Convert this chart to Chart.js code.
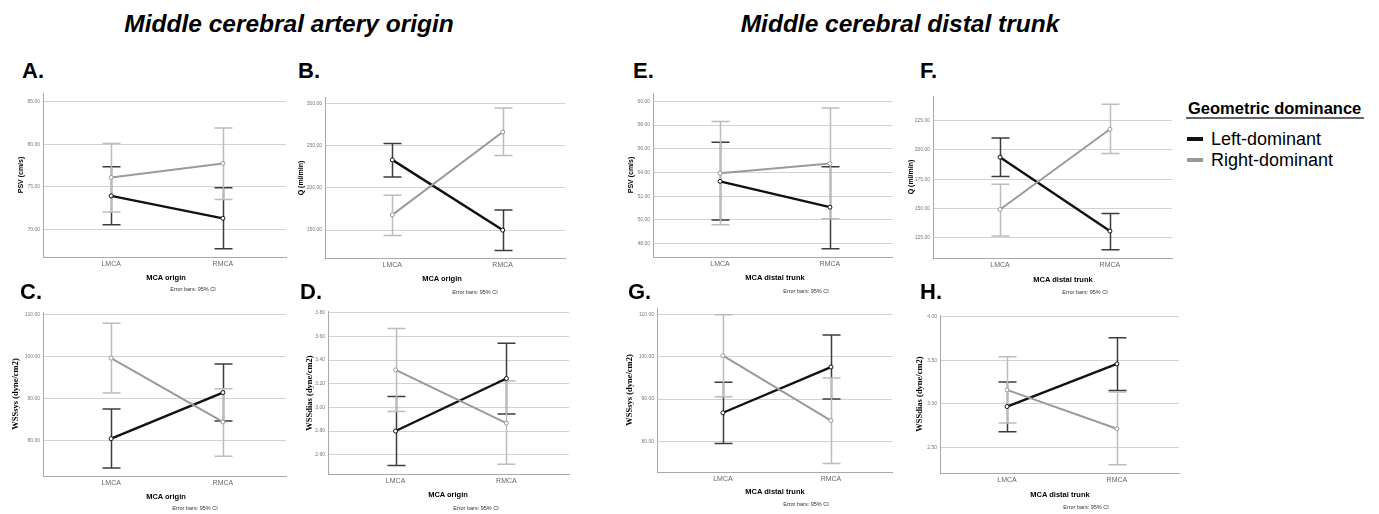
<!DOCTYPE html>
<html>
<head>
<meta charset="utf-8">
<script src="https://cdn.jsdelivr.net/npm/chart.js@4/dist/chart.umd.min.js"></script>
<style>
  html, body { margin: 0; padding: 0; background: #fff; }
  #stage { position: relative; width: 1379px; height: 514px; overflow: hidden; background: #fff; font-family: "Liberation Sans", Arial, sans-serif; }
  canvas { position: absolute; }
  .txt { position: absolute; white-space: nowrap; line-height: 1; color: #000; z-index: 5; }
  .c { transform: translate(-50%, -50%); }
  .rot { transform: translate(-50%, -50%) rotate(-90deg); }
</style>
</head>
<body>
<div id="stage"></div>
<script>
// ---------------- DATA ----------------
const categories = ['LMCA', 'RMCA'];
const seriesNames = ['Left-dominant', 'Right-dominant'];

// A. PSV, MCA origin
const psvOriginLeft = [73.96, 71.33];
const psvOriginLeftLo = [70.59, 67.77];
const psvOriginLeftHi = [77.37, 74.90];
const psvOriginRight = [76.11, 77.76];
const psvOriginRightLo = [72.08, 73.53];
const psvOriginRightHi = [80.10, 81.90];
const psvOriginTicks = [70, 75, 80, 85];

// B. Q, MCA origin
const qOriginLeft = [233.3, 150.0];
const qOriginLeftLo = [213.1, 125.9];
const qOriginLeftHi = [252.6, 173.7];
const qOriginRight = [168.1, 266.4];
const qOriginRightLo = [143.7, 238.4];
const qOriginRightHi = [191.4, 294.9];
const qOriginTicks = [150, 200, 250, 300];

// C. WSSsys, MCA origin
const wssSysOriginLeft = [80.4, 91.4];
const wssSysOriginLeftLo = [73.4, 84.6];
const wssSysOriginLeftHi = [87.5, 98.2];
const wssSysOriginRight = [99.6, 84.4];
const wssSysOriginRightLo = [91.3, 76.2];
const wssSysOriginRightHi = [107.9, 92.3];
const wssSysOriginTicks = [80, 90, 100, 110];

// D. WSSdias, MCA origin
const wssDiasOriginLeft = [2.800, 3.244];
const wssDiasOriginLeftLo = [2.508, 2.944];
const wssDiasOriginLeftHi = [3.092, 3.542];
const wssDiasOriginRight = [3.317, 2.867];
const wssDiasOriginRightLo = [2.964, 2.520];
const wssDiasOriginRightHi = [3.666, 3.222];
const wssDiasOriginTicks = [2.6, 2.8, 3.0, 3.2, 3.4, 3.6, 3.8];

// E. PSV, MCA distal trunk
const psvDistalLeft = [53.25, 51.07];
const psvDistalLeftLo = [50.00, 47.57];
const psvDistalLeftHi = [56.55, 54.49];
const psvDistalRight = [53.93, 54.75];
const psvDistalRightLo = [49.58, 50.10];
const psvDistalRightHi = [58.30, 59.44];
const psvDistalTicks = [48, 50, 52, 54, 56, 58, 60];

// F. Q, MCA distal trunk
const qDistalLeft = [193.75, 130.7];
const qDistalLeftLo = [177.3, 114.8];
const qDistalLeftHi = [210.2, 145.7];
const qDistalRight = [149.1, 217.6];
const qDistalRightLo = [126.4, 196.9];
const qDistalRightHi = [170.7, 238.9];
const qDistalTicks = [125, 150, 175, 200, 225];

// G. WSSsys, MCA distal trunk
const wssSysDistalLeft = [86.75, 97.6];
const wssSysDistalLeftLo = [79.44, 90.0];
const wssSysDistalLeftHi = [93.97, 105.2];
const wssSysDistalRight = [100.3, 84.9];
const wssSysDistalRightLo = [90.56, 74.7];
const wssSysDistalRightHi = [110.0, 95.0];
const wssSysDistalTicks = [80, 90, 100, 110];

// H. WSSdias, MCA distal trunk
const wssDiasDistalLeft = [2.969, 3.458];
const wssDiasDistalLeftLo = [2.680, 3.153];
const wssDiasDistalLeftHi = [3.252, 3.760];
const wssDiasDistalRight = [3.160, 2.714];
const wssDiasDistalRightLo = [2.779, 2.300];
const wssDiasDistalRightHi = [3.542, 3.137];
const wssDiasDistalTicks = [2.5, 3.0, 3.5, 4.0];

// ---------------- LAYOUT ----------------
const panels = [
  { letter: 'A.', lx: 22, ly: 71, rect: [43, 93, 287, 257], min: 66.8, max: 86.0, ticks: psvOriginTicks,
    s: [[psvOriginLeft, psvOriginLeftLo, psvOriginLeftHi], [psvOriginRight, psvOriginRightLo, psvOriginRightHi]],
    yTitle: 'PSV (cm/s)', serif: false, ytx: 20, xTitle: 'MCA origin', xtx: 166, xty: 278, ebx: 193, eby: 290 },
  { letter: 'B.', lx: 298, ly: 71, rect: [325, 97, 566, 258], min: 116.9, max: 307.9, ticks: qOriginTicks,
    s: [[qOriginLeft, qOriginLeftLo, qOriginLeftHi], [qOriginRight, qOriginRightLo, qOriginRightHi]],
    yTitle: 'Q (ml/min)', serif: false, ytx: 300, xTitle: 'MCA origin', xtx: 442, xty: 279, ebx: 475, eby: 293 },
  { letter: 'E.', lx: 633, ly: 71, rect: [653, 93, 893, 257], min: 46.87, max: 60.7, ticks: psvDistalTicks,
    s: [[psvDistalLeft, psvDistalLeftLo, psvDistalLeftHi], [psvDistalRight, psvDistalRightLo, psvDistalRightHi]],
    yTitle: 'PSV (cm/s)', serif: false, ytx: 630, xTitle: 'MCA distal trunk', xtx: 775, xty: 278, ebx: 806, eby: 292 },
  { letter: 'F.', lx: 920, ly: 71, rect: [933, 96, 1173, 258], min: 107.7, max: 246.0, ticks: qDistalTicks,
    s: [[qDistalLeft, qDistalLeftLo, qDistalLeftHi], [qDistalRight, qDistalRightLo, qDistalRightHi]],
    yTitle: 'Q (ml/min)', serif: false, ytx: 910, xTitle: 'MCA distal trunk', xtx: 1063, xty: 280, ebx: 1085, eby: 293 },
  { letter: 'C.', lx: 20, ly: 292, rect: [43, 312, 287, 476], min: 71.5, max: 110.6, ticks: wssSysOriginTicks,
    s: [[wssSysOriginLeft, wssSysOriginLeftLo, wssSysOriginLeftHi], [wssSysOriginRight, wssSysOriginRightLo, wssSysOriginRightHi]],
    yTitle: 'WSSsys (dyne/cm2)', serif: true, ytx: 15, xTitle: 'MCA origin', xtx: 166, xty: 497, ebx: 195, eby: 509 },
  { letter: 'D.', lx: 300, ly: 292, rect: [328, 311, 570, 474], min: 2.437, max: 3.814, ticks: wssDiasOriginTicks,
    s: [[wssDiasOriginLeft, wssDiasOriginLeftLo, wssDiasOriginLeftHi], [wssDiasOriginRight, wssDiasOriginRightLo, wssDiasOriginRightHi]],
    yTitle: 'WSSdias (dyne/cm2)', serif: true, ytx: 309, xTitle: 'MCA origin', xtx: 448, xty: 495, ebx: 476, eby: 509 },
  { letter: 'G.', lx: 628, ly: 292, rect: [657, 308, 893, 472], min: 72.7, max: 111.6, ticks: wssSysDistalTicks,
    s: [[wssSysDistalLeft, wssSysDistalLeftLo, wssSysDistalLeftHi], [wssSysDistalRight, wssSysDistalRightLo, wssSysDistalRightHi]],
    yTitle: 'WSSsys (dyne/cm2)', serif: true, ytx: 629, xTitle: 'MCA distal trunk', xtx: 775, xty: 492, ebx: 806, eby: 505 },
  { letter: 'H.', lx: 920, ly: 292, rect: [940, 315, 1180, 473], min: 2.206, max: 4.02, ticks: wssDiasDistalTicks,
    s: [[wssDiasDistalLeft, wssDiasDistalLeftLo, wssDiasDistalLeftHi], [wssDiasDistalRight, wssDiasDistalRightLo, wssDiasDistalRightHi]],
    yTitle: 'WSSdias (dyne/cm2)', serif: true, ytx: 919, xTitle: 'MCA distal trunk', xtx: 1060, xty: 495, ebx: 1086, eby: 508 }
];

const lineColors = ['#111111', '#9a9a9a'];
const barColors = ['#3c3c3c', '#bcbcbc'];
const PAD_L = 34, PAD_T = 6, PAD_R = 4, PAD_B = 18;

// ---------------- RENDER ----------------
Chart.defaults.font.family = '"Liberation Sans", Arial, sans-serif';
const stage = document.getElementById('stage');

function addText(text, x, y, css, cls) {
  const d = document.createElement('div');
  d.className = 'txt ' + (cls || '');
  d.textContent = text;
  d.style.left = x + 'px';
  d.style.top = y + 'px';
  Object.assign(d.style, css || {});
  stage.appendChild(d);
  return d;
}

const errorBarPlugin = {
  id: 'errorBars',
  beforeDatasetsDraw(chart) {
    const ctx = chart.ctx;
    const xs = chart.scales.x, ys = chart.scales.y;
    chart.data.datasets.forEach((ds, i) => {
      ctx.save();
      ctx.strokeStyle = ds.barColor;
      ctx.lineWidth = 1.5;
      ds.lo.forEach((lo, j) => {
        const hi = ds.hi[j];
        const x = Math.round(xs.getPixelForValue(j)) + 0.5;
        const y1 = ys.getPixelForValue(lo), y2 = ys.getPixelForValue(hi);
        ctx.beginPath();
        ctx.moveTo(x, y1); ctx.lineTo(x, y2);
        ctx.moveTo(x - 9, y1); ctx.lineTo(x + 9, y1);
        ctx.moveTo(x - 9, y2); ctx.lineTo(x + 9, y2);
        ctx.stroke();
      });
      ctx.restore();
    });
  }
};

panels.forEach(p => {
  const [l, t, r, b] = p.rect;
  const cv = document.createElement('canvas');
  const w = (r - l) + PAD_L + PAD_R, h = (b - t) + PAD_T + PAD_B;
  cv.width = w; cv.height = h;
  cv.style.left = (l - PAD_L) + 'px';
  cv.style.top = (t - PAD_T) + 'px';
  cv.style.width = w + 'px'; cv.style.height = h + 'px';
  stage.appendChild(cv);

  const datasets = p.s.map((sr, i) => ({
    label: seriesNames[i],
    data: sr[0].map((v, j) => ({ x: j, y: v })),
    lo: sr[1], hi: sr[2],
    borderColor: lineColors[i],
    backgroundColor: lineColors[i],
    barColor: barColors[i],
    borderWidth: i === 0 ? 2.4 : 2,
    pointRadius: 2,
    pointBorderWidth: 1,
    pointBackgroundColor: '#ffffff',
    pointBorderColor: lineColors[i],
    tension: 0,
    order: 1 - i
  }));

  new Chart(cv, {
    type: 'line',
    data: { datasets },
    options: {
      responsive: false,
      animation: false,
      devicePixelRatio: 1,
      layout: { padding: { top: PAD_T, right: PAD_R, left: 0, bottom: 0 } },
      plugins: { legend: { display: false }, tooltip: { enabled: false } },
      scales: {
        x: {
          type: 'linear', min: -0.61, max: 1.565,
          afterBuildTicks: s => { s.ticks = categories.map((c, j) => ({ value: j })); },
          afterFit: s => { s.height = PAD_B; },
          grid: { display: false, drawTicks: false },
          border: { display: true, color: '#a8a8a8', width: 1 },
          ticks: { callback: v => categories[v], padding: 3, color: '#666', font: { size: 7 }, maxRotation: 0, autoSkip: false }
        },
        y: {
          type: 'linear', min: p.min, max: p.max,
          afterBuildTicks: s => { s.ticks = p.ticks.map(v => ({ value: v })); },
          afterFit: s => { s.width = PAD_L; },
          grid: { display: true, drawTicks: false, color: '#d2d2d2', lineWidth: 1 },
          border: { display: true, color: '#a8a8a8', width: 1 },
          ticks: { callback: v => Number(v).toFixed(2), padding: 3, color: '#777', font: { size: 5 } }
        }
      }
    },
    plugins: [errorBarPlugin]
  });

  addText(p.letter, p.lx, p.ly, { fontSize: '22px', fontWeight: 'bold', transform: 'translateY(-50%)' });
  addText(p.yTitle, p.ytx, (t + b) / 2, p.serif
    ? { fontFamily: '"Liberation Serif", "Times New Roman", serif', fontWeight: 'bold', fontSize: '8.5px' }
    : { fontWeight: 'bold', fontSize: '7px' }, 'rot');
  addText(p.xTitle, p.xtx, p.xty, { fontWeight: 'bold', fontSize: '7.5px' }, 'c');
  addText('Error bars: 95% CI', p.ebx, p.eby, { fontSize: '5.5px', color: '#333' }, 'c');
});

// Titles
addText('Middle cerebral artery origin', 289, 24, { fontSize: '24.5px', fontWeight: 'bold', fontStyle: 'italic' }, 'c');
addText('Middle cerebral distal trunk', 900, 24, { fontSize: '24.5px', fontWeight: 'bold', fontStyle: 'italic' }, 'c');

// Legend
addText('Geometric dominance', 1188, 108, { fontSize: '16.5px', fontWeight: 'bold', transform: 'translateY(-50%)' });
const ul = document.createElement('div');
Object.assign(ul.style, { position: 'absolute', left: '1186px', top: '117px', width: '178px', height: '2px', background: '#666' });
stage.appendChild(ul);
seriesNames.forEach((n, i) => {
  const y = 139 + i * 21;
  const m = document.createElement('div');
  Object.assign(m.style, { position: 'absolute', left: '1187px', top: (y - 2) + 'px', width: '16px', height: '4px', background: lineColors[i] });
  stage.appendChild(m);
  addText(n, 1211, y, { fontSize: '18px', transform: 'translateY(-50%)' });
});
</script>
</body>
</html>
